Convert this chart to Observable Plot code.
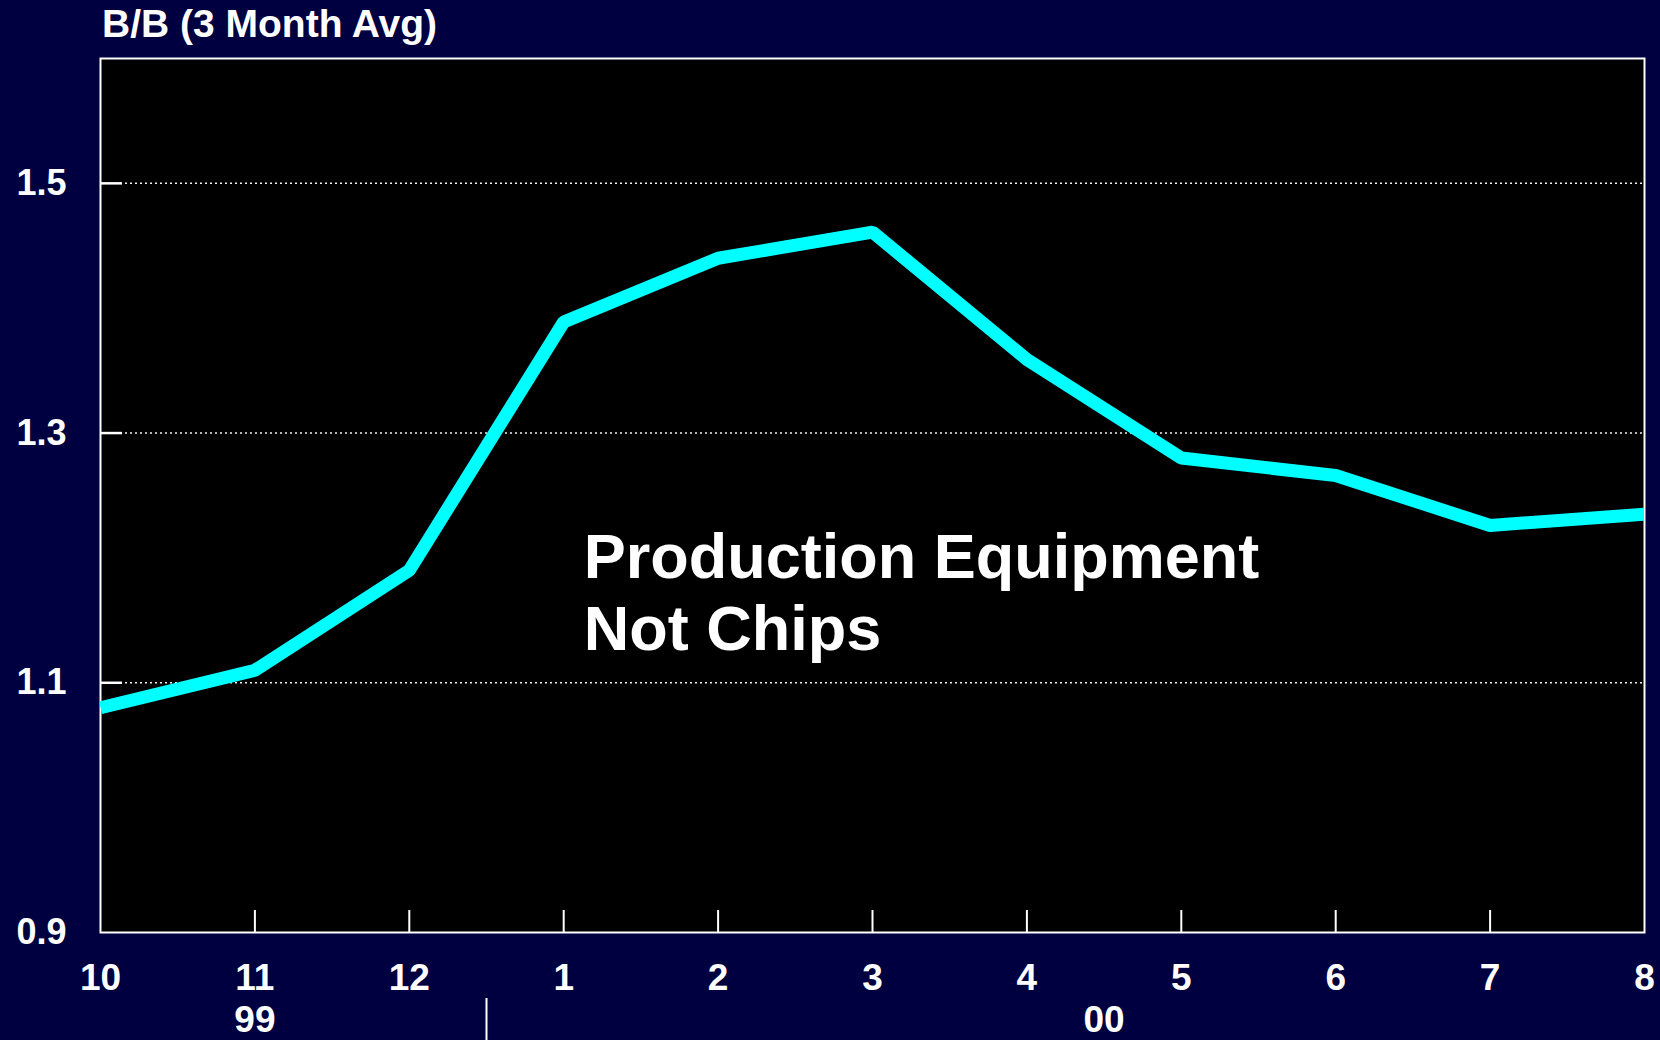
<!DOCTYPE html>
<html>
<head>
<meta charset="utf-8">
<script src="https://cdn.jsdelivr.net/npm/d3@7"></script>
<script src="https://cdn.jsdelivr.net/npm/@observablehq/plot@0.6"></script>
<style>
  html, body { margin: 0; padding: 0; background: #000040; overflow: hidden; }
  #wrap { position: relative; width: 1660px; height: 1040px; }
  #title { position: absolute; left: 102px; top: 4px; font: bold 39px "Liberation Sans", Arial, sans-serif; color: white; line-height: 39px; white-space: nowrap; }
  #chart { position: absolute; left: 0; top: 0; }
</style>
</head>
<body>
<div id="wrap">
  <div id="chart"></div>
  <div id="title">B/B (3 Month Avg)</div>
</div>
<script>
const months = ["10", "11", "12", "1", "2", "3", "4", "5", "6", "7", "8"];
const bookToBill = [1.080, 1.110, 1.190, 1.389, 1.440, 1.461, 1.359, 1.280, 1.266, 1.226, 1.235];
const yTicks = [0.9, 1.1, 1.3, 1.5];
const gridValues = [1.1, 1.3, 1.5];
const yearLabels = ["99", "00"];
const yearStart = [0, 3];          // index of first month of each year
const yearEnd = [2, 10];           // index of last month shown
const annotation = "Production Equipment\nNot Chips";

const data = months.map((m, i) => ({i, month: m, value: bookToBill[i]}));
const years = yearLabels.map((label, k) => ({label, x: (yearStart[k] + yearEnd[k]) / 2}));
const dividers = yearStart.slice(1).map(s => s - 0.5);
const xIdx = months.map((_, i) => i);

const font = '"Liberation Sans", Arial, sans-serif';

const chart = Plot.plot({
  width: 1660,
  height: 1040,
  marginTop: 58,
  marginBottom: 108,
  marginLeft: 100,
  marginRight: 16,
  style: {background: "transparent", color: "white", fontFamily: font, fontWeight: "bold", fontSize: "36px"},
  x: {domain: [0, months.length - 1], label: null},
  y: {domain: [0.9, 1.6], label: null},
  marks: [
    Plot.frame({fill: "black", stroke: null}),
    Plot.ruleY(gridValues, {stroke: "white", strokeWidth: 1.5, strokeDasharray: "2,3", strokeOpacity: 0.95}),
    Plot.axisY(gridValues, {anchor: "left", tickSize: -22, text: null, stroke: "white", strokeWidth: 2.5, strokeOpacity: 1, label: null}),
    Plot.axisY(yTicks, {anchor: "left", tickSize: 0, tickPadding: 34, tickFormat: d => d.toFixed(1), fill: "white", fontSize: 36, fontWeight: "bold", label: null}),
    Plot.axisX(xIdx.slice(1, -1), {anchor: "bottom", tickSize: -22, text: null, stroke: "white", strokeWidth: 2, strokeOpacity: 1, label: null}),
    Plot.axisX(xIdx, {anchor: "bottom", tickSize: 0, tickPadding: 31, tickFormat: i => months[i], fill: "white", fontSize: 37, fontWeight: "bold", label: null}),
    Plot.frame({stroke: "white", strokeWidth: 2}),
    Plot.line(data, {x: "i", y: "value", stroke: "#00FFFF", strokeWidth: 13, strokeLinejoin: "miter", strokeLinecap: "butt", clip: true}),
    Plot.text([annotation], {x: 3.13, y: 1.126, text: d => d, textAnchor: "start", lineAnchor: "bottom", lineHeight: 1.143, fontSize: 63, fontWeight: "bold", fill: "white"}),
    Plot.text(years, {x: "x", frameAnchor: "bottom", text: "label", dy: 88, lineAnchor: "middle", fontSize: 37, fontWeight: "bold", fill: "white"}),
    Plot.ruleX(dividers, {y1: 0.9, y2: 0.9, insetTop: 66, insetBottom: -112, stroke: "white", strokeWidth: 2})
  ]
});
document.getElementById("chart").appendChild(chart);
</script>
</body>
</html>
